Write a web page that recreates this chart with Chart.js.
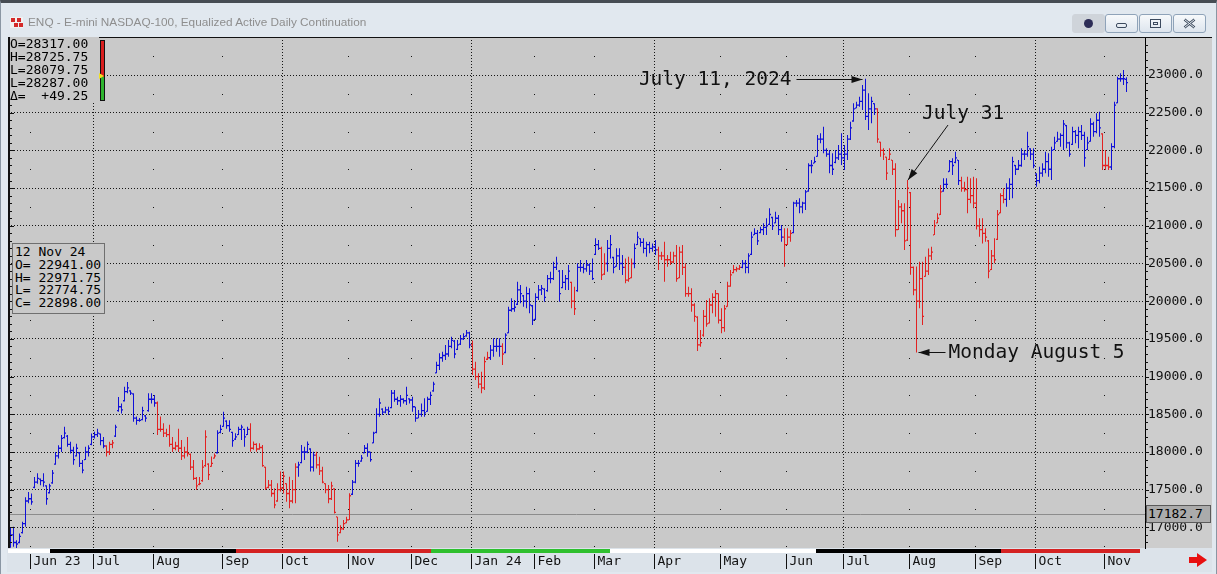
<!DOCTYPE html>
<html><head><meta charset="utf-8">
<script src="https://cdn.jsdelivr.net/npm/chart.js@4.4.1/dist/chart.umd.min.js"></script>
<style>
html,body{margin:0;padding:0;}
body{width:1217px;height:574px;overflow:hidden;position:relative;background:#e1e8ef;}
#frame{position:absolute;left:0;top:0;width:1215px;height:572px;border:1px solid #8a96a3;border-top:3px solid #464c53;box-sizing:content-box;pointer-events:none;}
#title{position:absolute;left:28px;top:15px;font:11.8px 'Liberation Sans',Arial,sans-serif;color:#8e8e8e;white-space:nowrap;z-index:2;}
#icon{position:absolute;left:10px;top:17px;width:13px;height:11px;background:#f2f2f2;z-index:2;}
#icon i{position:absolute;width:4px;height:4px;background:#d42a2a;}
.btn{position:absolute;top:14px;height:17px;width:31px;border:1px solid #8fa3b9;border-radius:3px;background:linear-gradient(#f7f9fb,#dde5ee);z-index:2;}
#b0{left:1072px;background:#cfd4da;border-color:#cfd4da;}
#b0 span{position:absolute;left:11px;top:4px;width:9px;height:9px;border-radius:50%;background:#2d2d57;}
#b1{left:1105px;}#b2{left:1139px;}#b3{left:1173px;}
.btn svg{position:absolute;left:0;top:0;}
canvas{position:absolute;left:0;top:0;z-index:1;}
.info{position:absolute;font:13px/13px 'DejaVu Sans Mono',monospace;color:#000;white-space:pre;z-index:2;}
#tl{left:10px;top:37px;width:89px;height:66px;background:#c9c9c9;}
#ind{position:absolute;left:100px;top:40px;width:3px;height:59px;border:1px solid #111;background:linear-gradient(#d81e1e 0,#d81e1e 61%,#2fb52f 61%,#2fb52f 100%);z-index:3;}
#tri{position:absolute;left:99px;top:73px;width:0;height:0;border-top:3px solid transparent;border-bottom:3px solid transparent;border-left:5px solid #f0e020;z-index:4;}
#mid{left:12px;top:243px;width:89px;height:67px;background:#c9c9c9;border:1px solid #6f6f6f;padding:2px 0 0 2px;line-height:12.8px;}
#ref{left:1146px;top:505px;width:62px;height:16px;background:#ababab;border:1px solid #5a5a5a;line-height:16px;padding-left:1px;}
#go{position:absolute;left:1187px;top:552px;z-index:2;}
</style></head>
<body>
<div id="frame"></div>
<div id="icon"><i style="left:1px;top:1px"></i><i style="left:7px;top:1px"></i><i style="left:4px;top:6px"></i><i style="left:9px;top:6px"></i></div>
<div id="title">ENQ - E-mini NASDAQ-100, Equalized Active Daily Continuation</div>
<div class="btn" id="b0"><span></span></div>
<div class="btn" id="b1"><svg width="31" height="17"><rect x="10.5" y="8.5" width="10" height="4" rx="1.5" fill="none" stroke="#3c4a5e"/></svg></div>
<div class="btn" id="b2"><svg width="31" height="17"><rect x="10.5" y="4.5" width="10" height="8" fill="none" stroke="#3c4a5e"/><rect x="13.5" y="7.5" width="4" height="2" fill="none" stroke="#3c4a5e"/></svg></div>
<div class="btn" id="b3"><svg width="31" height="17"><path d="M10.5 4.5 L20.5 12.5 M20.5 4.5 L10.5 12.5" stroke="#3c4a5e" stroke-width="2.6"/><path d="M10.5 4.5 L20.5 12.5 M20.5 4.5 L10.5 12.5" stroke="#eef2f6" stroke-width="1"/></svg></div>
<canvas id="c" width="1217" height="574" style="width:1217px;height:574px"></canvas>
<div class="info" id="tl">O=28317.00
H=28725.75
L=28079.75
L=28287.00
Δ=  +49.25</div>
<div id="ind"></div><div id="tri"></div>
<div class="info" id="mid">12 Nov 24
O= 22941.00
H= 22971.75
L= 22774.75
C= 22898.00</div>
<div class="info" id="ref">17182.7</div>
<svg id="go" width="22" height="16"><path d="M2 5 H10 V1 L20 8 L10 15 V11 H2 Z" fill="#e81010"/></svg>
<script>
// ---- data (daily bars, index 0 = 22 May 2023 ... index 372 = 12 Nov 2024) ----
const highs = [
17000,17010,16830,16920,17075,17400,17470,17450,17670,17720,
17650,17720,17560,17580,17760,18000,18090,18225,18335,18225,
18135,18070,18110,18000,17895,18070,18090,18247,18270,18310,
18247,18200,18090,18135,18160,18360,18730,18645,18865,18930,
18820,18780,18470,18450,18600,18490,18780,18780,18755,18670,
18470,18380,18310,18360,18200,18135,18310,18160,18070,18200,
17980,17895,17670,17670,17895,18290,17850,17940,17980,18290,
18360,18535,18420,18420,18270,18250,18335,18360,18310,18335,
18380,18140,18115,18115,18093,17805,17630,17630,17518,17585,
17740,17740,17585,17673,17630,17850,17870,18093,18071,18140,
18050,18005,18005,17938,17805,17585,17563,17607,17518,17142,
17030,17098,17142,17452,17629,17894,17894,17960,18093,18115,
18005,18270,18580,18712,18580,18601,18601,18822,18822,18734,
18756,18712,18866,18712,18734,18601,18557,18645,18712,18734,
18800,18933,19198,19309,19330,19420,19485,19530,19485,19485,
19552,19574,19618,19596,19480,19198,19043,19065,19264,19330,
19420,19508,19508,19508,19441,19574,19927,20038,20016,20259,
20215,20082,20193,20171,19950,20104,20215,20215,20171,20347,
20392,20524,20590,20414,20414,20347,20480,20259,20193,20502,
20546,20502,20546,20502,20568,20834,20812,20723,20635,20812,
20878,20590,20701,20701,20613,20568,20590,20568,20767,20922,
20834,20834,20790,20790,20767,20812,20723,20657,20790,20613,
20657,20657,20745,20723,20745,20502,20193,20171,19972,19800,
19618,19883,20016,20038,20104,20149,20104,19905,19950,20259,
20414,20480,20458,20480,20546,20546,20635,20922,20966,20944,
20988,21033,21099,21232,21121,21187,21143,21010,20966,20966,
20944,21320,21342,21364,21320,21475,21829,21873,21917,22204,
22226,22315,22027,22005,21961,22005,22071,22226,22071,22204,
22381,22624,22646,22713,22867,22950,22757,22713,22624,22558,
22116,22027,21917,22027,21873,21829,21342,21298,21298,21607,
21450,20460,20460,20524,20524,20590,20700,20723,21077,21165,
21541,21630,21630,21873,21895,21983,21873,21652,21585,21652,
21630,21652,21630,21099,21099,20966,20812,20679,20834,21210,
21431,21497,21563,21630,21917,21806,21873,22027,22005,22248,
22027,22027,21696,21784,21829,21983,21961,22049,22182,22248,
22226,22403,22337,22116,22315,22271,22315,22337,22248,22182,
22425,22381,22492,22514,22226,22005,21917,22094,22646,22978,
23022,23066,22971.75];
const lows = [
16730,16745,16720,16790,16920,17010,17320,17300,17520,17580,
17560,17540,17300,17450,17580,17830,17915,18000,18180,18070,
17980,17830,17940,17800,17720,17895,17940,18090,18180,18200,
18090,18050,17940,17960,18050,18200,18535,18510,18670,18780,
18755,18400,18360,18400,18420,18400,18535,18645,18600,18225,
18270,18200,18200,18070,18000,18025,18000,17895,17915,17940,
17760,17630,17495,17560,17605,17805,17630,17805,17915,17980,
18250,18335,18310,18270,18070,18160,18225,18160,18070,18225,
18005,18030,18005,18030,17805,17496,17520,17408,17253,17340,
17475,17450,17340,17253,17320,17320,17673,17850,17894,17982,
17740,17740,17783,17695,17585,17452,17320,17363,17186,16811,
16921,16965,17054,17098,17430,17585,17805,17872,17982,17938,
17872,18115,18248,18469,18490,18513,18490,18580,18668,18623,
18601,18645,18623,18645,18535,18402,18447,18469,18469,18535,
18623,18800,19043,19087,19198,19220,19264,19375,19242,19353,
19420,19485,19530,19375,19020,18955,18844,18778,18822,19220,
19220,19264,19330,19264,19154,19309,19574,19861,19861,19950,
19972,19927,19905,19839,19684,19751,20016,20082,19994,20127,
20237,20281,20414,19994,20171,20149,20149,19905,19817,20127,
20392,20370,20392,20347,20281,20613,20679,20281,20347,20392,
20568,20370,20458,20414,20347,20237,20259,20303,20436,20745,
20723,20635,20590,20635,20657,20613,20414,20546,20259,20458,
20480,20502,20259,20303,20347,20060,20060,19861,19729,19340,
19397,19530,19662,19706,19839,19795,19706,19574,19596,19927,
20193,20370,20392,20414,20436,20370,20370,20613,20878,20745,
20900,20878,20878,21010,20944,21033,20878,20790,20458,20745,
20790,20900,21254,21165,21165,21210,21453,21696,21829,21917,
22094,21961,21917,21696,21674,21829,21873,21806,21740,21873,
22138,22381,22558,22580,22536,22403,22271,22359,22469,22100,
21917,21873,21607,21873,21674,20856,20944,21033,20679,20800,
20350,20080,19320,19905,19684,20325,20348,20546,20878,21033,
21143,21453,21497,21718,21674,21829,21541,21453,21453,21165,
21298,21232,20950,20856,20767,20790,20303,20414,20502,20812,
21165,21298,21254,21342,21364,21674,21740,21784,21873,21917,
21873,21762,21519,21563,21652,21696,21652,21607,22005,22116,
22049,22005,22027,21917,22071,22094,22027,22138,21784,22005,
22116,22182,22226,22182,21740,21740,21740,21740,22027,22624,
22912,22867,22774.75];
const closes = [
16900,16800,16780,16880,17050,17350,17380,17340,17600,17650,
17620,17600,17380,17550,17720,17950,18050,18180,18250,18100,
18020,17900,18050,17850,17760,18000,18050,18200,18230,18250,
18150,18080,18000,18100,18120,18330,18600,18560,18800,18850,
18780,18450,18420,18420,18550,18450,18700,18700,18650,18300,
18300,18250,18230,18100,18050,18080,18050,17950,18000,17980,
17800,17650,17550,17580,17800,18200,17700,17850,17950,18250,
18300,18450,18350,18300,18150,18200,18300,18330,18200,18300,
18050,18100,18040,18060,17820,17520,17560,17450,17300,17500,
17520,17680,17450,17350,17500,17800,17830,18000,18000,18100,
17800,17960,17830,17750,17600,17500,17380,17550,17200,16900,
16980,17050,17100,17420,17600,17850,17850,17920,18050,18000,
17900,18250,18500,18650,18530,18560,18540,18780,18700,18680,
18700,18680,18750,18690,18600,18450,18500,18550,18520,18700,
18750,18900,19150,19250,19280,19300,19400,19480,19300,19420,
19500,19530,19580,19420,19100,19000,18900,18850,19200,19250,
19350,19400,19400,19400,19300,19550,19880,19900,19920,20150,
20100,20000,20100,19950,19750,20050,20150,20170,20050,20300,
20300,20450,20500,20100,20250,20300,20400,20000,19900,20450,
20450,20430,20480,20400,20300,20750,20700,20350,20500,20700,
20750,20450,20600,20500,20450,20280,20300,20500,20700,20850,
20780,20700,20750,20700,20720,20680,20600,20600,20550,20550,
20520,20600,20300,20650,20450,20100,20100,19950,19800,19420,
19450,19800,19700,19950,20050,20100,19750,19650,19900,20200,
20350,20420,20430,20450,20500,20450,20600,20850,20900,20800,
20950,20980,21000,21150,21000,21100,20950,20850,20750,20850,
20900,21300,21300,21250,21300,21450,21800,21800,21850,22150,
22150,22000,21950,21800,21750,21900,21950,21900,21950,22150,
22300,22550,22600,22650,22800,22450,22550,22650,22550,22150,
22000,21950,21700,21950,21750,20950,21250,21200,20800,21500,
20450,20150,20000,20300,19800,20400,20600,20650,21000,21100,
21450,21550,21550,21850,21800,21900,21600,21500,21480,21350,
21400,21300,21000,20950,20900,20850,20400,20600,20550,21150,
21400,21350,21500,21550,21850,21750,21800,21950,21950,22050,
21950,21800,21600,21700,21750,21850,21750,22000,22100,22150,
22200,22350,22100,21950,22250,22200,22250,22200,21900,22100,
22350,22250,22400,22300,21800,21800,21780,22050,22600,22950,
22950,22950,22898];
const opens = [
16950,16900,16800,16800,16930,17050,17350,17380,17530,17600,
17640,17620,17550,17460,17590,17840,17950,18050,18190,18210,
18100,18020,17950,17990,17850,17900,18000,18100,18200,18230,
18240,18150,18080,18000,18100,18210,18550,18600,18680,18800,
18810,18770,18450,18420,18430,18480,18550,18700,18700,18650,
18300,18300,18250,18230,18100,18050,18080,18050,17950,18000,
17970,17800,17650,17570,17620,17820,17840,17810,17920,17990,
18260,18340,18410,18350,18260,18170,18230,18300,18300,18230,
18300,18050,18100,18040,18060,17800,17530,17560,17450,17350,
17500,17520,17580,17450,17350,17500,17800,17860,18000,18000,
18040,17800,17960,17830,17750,17580,17500,17380,17510,17140,
16930,16980,17060,17100,17440,17600,17850,17880,17990,18050,
18000,18120,18260,18500,18570,18530,18560,18590,18780,18700,
18680,18700,18680,18705,18690,18600,18450,18500,18550,18540,
18700,18810,19050,19150,19250,19280,19300,19400,19470,19360,
19430,19500,19540,19580,19420,19100,19000,18900,18850,19230,
19250,19350,19400,19400,19400,19320,19580,19880,19900,19960,
20150,20070,20000,20100,19940,19760,20050,20150,20160,20140,
20300,20300,20450,20400,20180,20250,20300,20250,20000,20140,
20450,20450,20430,20480,20400,20620,20750,20700,20360,20500,
20700,20580,20460,20600,20500,20450,20280,20310,20500,20750,
20830,20780,20700,20750,20700,20720,20680,20600,20600,20550,
20550,20520,20600,20310,20650,20450,20100,20100,19950,19790,
19420,19550,19800,19710,19950,20050,20100,19750,19650,19930,
20200,20380,20420,20430,20450,20500,20450,20620,20880,20900,
20910,20950,20980,21020,21110,21040,21100,20950,20850,20750,
20850,20910,21300,21300,21250,21300,21460,21800,21830,21920,
22150,22150,22000,21950,21800,21840,21900,21950,21900,21950,
22150,22390,22560,22600,22650,22800,22450,22550,22620,22550,
22110,22000,21910,21880,21870,21750,20950,21250,21200,20810,
21440,20450,20150,20000,20300,20330,20400,20600,20880,21040,
21150,21460,21550,21720,21850,21840,21870,21600,21500,21480,
21350,21400,21300,21000,20950,20900,20800,20420,20600,20820,
21170,21400,21350,21500,21550,21800,21750,21800,21950,21950,
22020,21950,21690,21600,21700,21750,21850,21750,22010,22120,
22150,22200,22330,22100,22080,22250,22200,22250,22200,22010,
22120,22350,22250,22400,22220,21800,21800,21780,22050,22630,
22950,22950,22941];
// runs of bars the trend study paints red (inclusive index ranges)
const downTrendRuns = [[32,34],[49,68],[80,95],[102,113],[154,159],[164,164],[187,188],[197,198],[205,207],[216,243],[258,260],[289,310],[317,331],[364,366]];
// month axis
const monthLabels = ["Jun 23","Jul","Aug","Sep","Oct","Nov","Dec","Jan 24","Feb","Mar","Apr","May","Jun","Jul","Aug","Sep","Oct","Nov"];
const monthStartIndex = [7,28,48,71,91,113,134,154,175,195,215,237,259,278,300,322,342,365];
const quarterMonths = ["Jul","Oct","Jan 24","Apr"];
const yTickValues = [17000,17500,18000,18500,19000,19500,20000,20500,21000,21500,22000,22500,23000];
const refLevel = 17182.7;
// bottom study strip: [fromIndex, toIndex, state]
const stripRuns = [[-0.8,13.2,'white'],[13.2,75.2,'black'],[75.2,140.2,'red'],[140.2,199.8,'green'],[199.8,268.5,'white'],[268.5,330.2,'black'],[330.2,376.5,'red']];
const notes = [
  {text:'July 11, 2024', index:285, value:22950},
  {text:'July 31', index:299, value:21607},
  {text:'Monday August 5', index:302, value:19320}
];

// ---- rendering ----
const BLUE = '#1010d8', RED = '#e22222';
const STRIP = {white:'#ffffff', black:'#000000', red:'#d42222', green:'#2fc02f'};
const idx = highs.map((_, i) => i);
const isDown = i => downTrendRuns.some(([a, b]) => i >= a && i <= b);
const colors = idx.map(i => isDown(i) ? RED : BLUE);

function arrow(ctx, x1, y1, x2, y2) {
  ctx.beginPath(); ctx.moveTo(x1, y1); ctx.lineTo(x2, y2); ctx.stroke();
  const a = Math.atan2(y2 - y1, x2 - x1), L = 11, W = 3.5;
  ctx.beginPath(); ctx.moveTo(x2, y2);
  ctx.lineTo(x2 - L * Math.cos(a) + W * Math.sin(a), y2 - L * Math.sin(a) - W * Math.cos(a));
  ctx.lineTo(x2 - L * Math.cos(a) - W * Math.sin(a), y2 - L * Math.sin(a) + W * Math.cos(a));
  ctx.closePath(); ctx.fill();
}

const decor = {
  id: 'decor',
  beforeDraw(chart) {
    const {ctx, chartArea: a, scales: {x, y}} = chart;
    ctx.save();
    ctx.fillStyle = '#cdcdcd'; ctx.fillRect(a.right, a.top, 1212 - a.right, a.bottom - a.top);
    ctx.fillStyle = '#dce3ea'; ctx.fillRect(7, a.bottom, 1212 - 7, 572 - a.bottom);
    ctx.fillStyle = '#c9c9c9'; ctx.fillRect(a.left, a.top, a.right - a.left, a.bottom - a.top);
    // quarterly dotted verticals and monthly dot grid
    ctx.strokeStyle = '#151515'; ctx.lineWidth = 1; ctx.setLineDash([1, 2]);
    monthStartIndex.forEach((mi, k) => {
      const lx = Math.floor(x.getPixelForValue(mi) - 1) + 0.5;
      if (quarterMonths.includes(monthLabels[k])) {
        ctx.beginPath(); ctx.moveTo(lx, a.top); ctx.lineTo(lx, a.bottom); ctx.stroke();
      } else {
        ctx.fillStyle = '#151515';
        for (let v = 16750; v <= 23500; v += 500) {
          const py = Math.round(y.getPixelForValue(v));
          if (py > a.top && py < a.bottom) ctx.fillRect(lx - 0.5, py, 1, 1);
        }
      }
    });
    ctx.setLineDash([]);
    // reference line
    const ry = Math.round(y.getPixelForValue(refLevel)) + 0.5;
    ctx.strokeStyle = '#8c8c8c';
    ctx.beginPath(); ctx.moveTo(a.left, ry); ctx.lineTo(a.right, ry); ctx.stroke();
    ctx.restore();
  },
  afterDraw(chart) {
    const {ctx, chartArea: a, scales: {x, y}} = chart;
    ctx.save();
    // borders
    ctx.fillStyle = '#111';
    ctx.fillRect(a.left, a.top, 2, a.bottom - a.top);
    ctx.fillRect(a.left, a.top, 1212 - a.left, 1);
    // minor ticks on both vertical edges
    ctx.strokeStyle = '#111'; ctx.lineWidth = 1;
    for (let v = 16800; v <= 23500; v += 100) {
      const py = Math.round(y.getPixelForValue(v)) + 0.5;
      if (py < a.top + 1 || py > a.bottom) continue;
      const major = v % 500 === 0;
      ctx.beginPath();
      ctx.moveTo(a.left + 2, py); ctx.lineTo(a.left + (major ? 6 : 4), py);
      ctx.moveTo(a.right, py); ctx.lineTo(a.right + (major ? 4 : 3), py);
      ctx.stroke();
    }
    // study strip
    stripRuns.forEach(([f, t, s]) => {
      const x1 = x.getPixelForValue(f), x2 = x.getPixelForValue(t);
      ctx.fillStyle = STRIP[s]; ctx.fillRect(Math.round(x1), a.bottom + 1, Math.round(x2) - Math.round(x1), 4);
    });
    // month labels
    ctx.font = '13px "DejaVu Sans Mono"'; ctx.fillStyle = '#111'; ctx.textBaseline = 'middle'; ctx.textAlign = 'left';
    monthStartIndex.forEach((mi, k) => {
      const lx = Math.floor(x.getPixelForValue(mi) - 1) + 0.5;
      ctx.beginPath(); ctx.moveTo(lx, a.bottom + 6); ctx.lineTo(lx, a.bottom + 21); ctx.stroke();
      ctx.fillText(monthLabels[k], lx + 3, a.bottom + 13.5);
    });
    // annotations
    ctx.font = '19.5px "DejaVu Sans Mono"'; ctx.fillStyle = '#111'; ctx.strokeStyle = '#111';
    const n0 = notes[0], p0x = x.getPixelForValue(n0.index) - 3, p0y = Math.round(y.getPixelForValue(n0.value)) + 0.5;
    arrow(ctx, p0x - 66, p0y, p0x, p0y);
    ctx.textAlign = 'right'; ctx.fillText(n0.text, p0x - 71, p0y);
    const n1 = notes[1], p1x = x.getPixelForValue(n1.index) + 0.5, p1y = y.getPixelForValue(n1.value);
    arrow(ctx, p1x + 40, p1y - 55, p1x, p1y);
    ctx.textAlign = 'left'; ctx.fillText(n1.text, p1x + 14, p1y - 66);
    const n2 = notes[2], p2x = x.getPixelForValue(n2.index) + 2, p2y = Math.round(y.getPixelForValue(n2.value)) + 0.5;
    arrow(ctx, p2x + 27, p2y, p2x, p2y);
    ctx.fillText(n2.text, p2x + 30, p2y);
    ctx.restore();
  }
};

new Chart(document.getElementById('c'), {
  type: 'bar',
  data: {
    datasets: [
      {type: 'bar', data: idx.map(i => ({x: i, y: [lows[i], highs[i]]})), backgroundColor: colors,
       barThickness: 1, borderWidth: 0, borderSkipped: false, inflateAmount: 0, order: 2},
      {type: 'scatter', data: idx.map(i => ({x: i - 1/3, y: opens[i]})), pointStyle: 'line', pointRadius: 0.5,
       pointBorderWidth: 1.3, pointBorderColor: colors, pointHoverRadius: 0, order: 1},
      {type: 'scatter', data: idx.map(i => ({x: i + 1/3, y: closes[i]})), pointStyle: 'line', pointRadius: 0.5,
       pointBorderWidth: 1.3, pointBorderColor: colors, pointHoverRadius: 0, order: 1}
    ]
  },
  options: {
    responsive: false, animation: false, devicePixelRatio: 1, events: [],
    layout: {padding: {left: 8, top: 37, right: 0, bottom: 26}},
    plugins: {legend: {display: false}, tooltip: {enabled: false}},
    scales: {
      x: {type: 'linear', display: false, offset: false, grid: {offset: false}, min: -5/6, max: 378 + 1/6},
      y: {type: 'linear', position: 'right', min: 16727, max: 23504,
          afterFit(s) { s.width = 72; },
          afterBuildTicks(s) { s.ticks = yTickValues.map(v => ({value: v})); },
          ticks: {font: {family: 'DejaVu Sans Mono', size: 13}, color: '#111', padding: 3,
                  callback: v => Number(v).toFixed(1)},
          grid: {color: '#151515', lineWidth: 1, drawTicks: false},
          border: {display: true, color: '#000', width: 1, dash: [1, 2]}
      }
    }
  },
  plugins: [decor]
});
</script>
</body></html>
